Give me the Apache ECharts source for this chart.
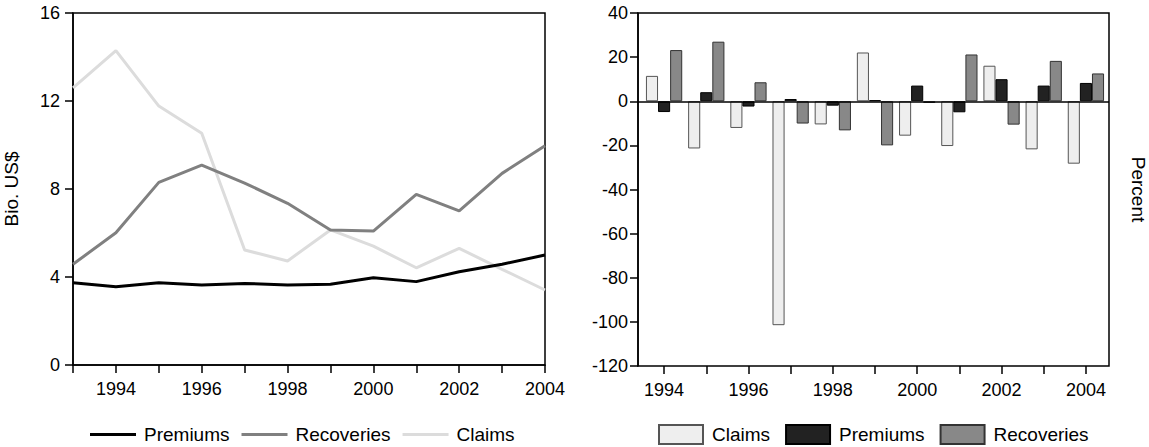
<!DOCTYPE html>
<html>
<head>
<meta charset="utf-8">
<script src="https://cdn.jsdelivr.net/npm/echarts@6/dist/echarts.min.js"></script>
<style>
html,body{margin:0;padding:0;background:#fff;}
#chart{width:1149px;height:447px;}
</style>
</head>
<body>
<div id="chart"></div>
<script>
// Left panel: levels, Bio. US$
var lineYears = ['1993','1994','1995','1996','1997','1998','1999','2000','2001','2002','2003','2004'];
var premiumsLevel   = [3.74, 3.56, 3.74, 3.64, 3.71, 3.64, 3.67, 3.97, 3.79, 4.24, 4.58, 5.00];
var recoveriesLevel = [4.58, 6.01, 8.30, 9.09, 8.27, 7.35, 6.14, 6.09, 7.76, 7.01, 8.71, 9.97];
var claimsLevel     = [12.6, 14.29, 11.77, 10.53, 5.23, 4.73, 6.14, 5.40, 4.42, 5.30, 4.35, 3.41];

// Right panel: percent changes
var barYears = ['1994','1995','1996','1997','1998','1999','2000','2001','2002','2003','2004'];
var claimsPct     = [11.5, -21.4, -12.1, -101.5, -10.5, 22.1, -15.6, -20.3, 16.1, -21.8, -28.3];
var premiumsPct   = [-4.9, 4.1, -2.4, 1.0, -2.0, 0.5, 7.1, -5.0, 10.0, 7.1, 8.3];
var recoveriesPct = [23.2, 27.0, 8.6, -10.1, -13.2, -20.0, -0.8, 21.2, -10.6, 18.3, 12.6];

var leftTicks = {min: 0, max: 16, interval: 4};
var rightTicks = {min: -120, max: 40, interval: 20};

var FONT = 'Liberation Sans';
var chart = echarts.init(document.getElementById('chart'), null, {renderer: 'svg'});

var axisLineStyle = {color: '#000', width: 1.5};
var tickStyle = {show: true, length: 8, lineStyle: {color: '#000', width: 1.5}};
var labelStyle = {color: '#000', fontSize: 18, fontFamily: FONT};

var option = {
  animation: false,
  backgroundColor: '#fff',
  textStyle: {fontFamily: FONT},
  grid: [
    {left: 73, top: 13, width: 472, height: 352, show: true, borderColor: '#000', borderWidth: 1.5, backgroundColor: 'transparent', containLabel: false},
    {left: 643, top: 13, width: 464, height: 353, show: false, containLabel: false},
    {left: 638, top: 13, width: 474, height: 353, show: true, borderColor: '#000', borderWidth: 1.5, backgroundColor: 'transparent', containLabel: false}
  ],
  xAxis: [
    {
      gridIndex: 0, type: 'category', data: lineYears, boundaryGap: false,
      axisLine: {show: true, onZero: false, lineStyle: axisLineStyle},
      axisTick: Object.assign({interval: 0}, tickStyle),
      axisLabel: Object.assign({margin: 15, interval: function (i) { return i % 2 === 1; }}, labelStyle),
      splitLine: {show: false}
    },
    {
      gridIndex: 1, type: 'category', data: barYears, boundaryGap: true,
      axisLine: {show: false, onZero: false},
      axisTick: Object.assign({interval: 0, alignWithLabel: true}, tickStyle),
      axisLabel: Object.assign({margin: 15, interval: 1}, labelStyle),
      splitLine: {show: false}
    },
    {gridIndex: 2, type: 'value', min: 0, max: 1, show: false, axisLine: {onZero: false}}
  ],
  yAxis: [
    {
      gridIndex: 0, type: 'value', min: leftTicks.min, max: leftTicks.max, interval: leftTicks.interval,
      axisLine: {show: true, onZero: false, lineStyle: axisLineStyle},
      axisTick: tickStyle,
      axisLabel: Object.assign({margin: 13}, labelStyle),
      splitLine: {show: false},
      name: 'Bio. US$', nameLocation: 'middle', nameGap: 52,
      nameTextStyle: {color: '#000', fontSize: 19, fontFamily: FONT}
    },
    {gridIndex: 1, type: 'value', min: rightTicks.min, max: rightTicks.max, interval: rightTicks.interval, show: false, axisLine: {onZero: false}},
    {
      gridIndex: 2, type: 'value', min: rightTicks.min, max: rightTicks.max, interval: rightTicks.interval,
      axisLine: {show: true, onZero: false, lineStyle: axisLineStyle},
      axisTick: tickStyle,
      axisLabel: Object.assign({margin: 10}, labelStyle),
      splitLine: {show: false}
    },
    {
      gridIndex: 2, type: 'value', position: 'right', min: rightTicks.min, max: rightTicks.max,
      axisLine: {show: false, onZero: false}, axisTick: {show: false}, axisLabel: {show: false}, splitLine: {show: false},
      name: 'Percent', nameLocation: 'middle', nameGap: 20, nameRotate: -90,
      nameTextStyle: {color: '#000', fontSize: 19, fontFamily: FONT}
    }
  ],
  legend: [
    {
      left: 90, top: 425, padding: 0, itemWidth: 46, itemHeight: 3, itemGap: 12,
      icon: 'rect',
      data: ['Premiums', 'Recoveries', 'Claims'],
      textStyle: {color: '#000', fontSize: 19, fontFamily: FONT, padding: [0, 0, 0, 3]},
      selectedMode: false
    },
    {
      left: 658, top: 424, padding: 0, itemWidth: 44, itemHeight: 19, itemGap: 15,
      icon: 'rect',
      data: ['Claims (%)', 'Premiums (%)', 'Recoveries (%)'],
      formatter: function (n) { return n.replace(' (%)', ''); },
      textStyle: {color: '#000', fontSize: 19, fontFamily: FONT, padding: [0, 0, 0, 4]},
      selectedMode: false
    }
  ],
  series: [
    {name: 'Claims', type: 'line', xAxisIndex: 0, yAxisIndex: 0, data: claimsLevel, symbol: 'none',
      lineStyle: {color: '#dcdcdc', width: 3}, itemStyle: {color: '#dcdcdc'}},
    {name: 'Recoveries', type: 'line', xAxisIndex: 0, yAxisIndex: 0, data: recoveriesLevel, symbol: 'none',
      lineStyle: {color: '#808080', width: 3}, itemStyle: {color: '#808080'}},
    {name: 'Premiums', type: 'line', xAxisIndex: 0, yAxisIndex: 0, data: premiumsLevel, symbol: 'none',
      lineStyle: {color: '#000', width: 3}, itemStyle: {color: '#000'}},

    {name: 'Claims (%)', type: 'bar', xAxisIndex: 1, yAxisIndex: 1, data: claimsPct,
      barGap: '0%', barCategoryGap: '14%',
      itemStyle: {color: '#eeeeee', borderColor: '#555555', borderWidth: 1}},
    {name: 'Premiums (%)', type: 'bar', xAxisIndex: 1, yAxisIndex: 1, data: premiumsPct,
      barGap: '0%', barCategoryGap: '14%',
      itemStyle: {color: '#222222', borderColor: '#000000', borderWidth: 1}},
    {name: 'Recoveries (%)', type: 'bar', xAxisIndex: 1, yAxisIndex: 1, data: recoveriesPct,
      barGap: '0%', barCategoryGap: '14%',
      itemStyle: {color: '#888888', borderColor: '#333333', borderWidth: 1}},

    {name: 'zero', type: 'line', xAxisIndex: 2, yAxisIndex: 2, data: [], silent: true,
      markLine: {silent: true, symbol: 'none', label: {show: false},
        lineStyle: {color: '#000', type: 'solid', width: 1.5},
        data: [{yAxis: 0}]}}
  ]
};
chart.setOption(option);
</script>
</body>
</html>
